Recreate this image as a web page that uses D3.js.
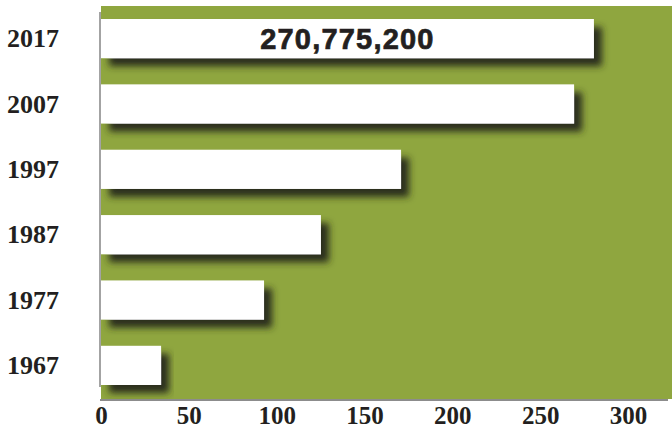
<!DOCTYPE html>
<html>
<head>
<meta charset="utf-8">
<script src="https://cdn.jsdelivr.net/npm/d3@7"></script>
<style>
  body { margin: 0; background: #fff; }
  .yearText { font-family: "Liberation Serif", "Times New Roman", serif; font-weight: bold; font-size: 26px; fill: #231f20; }
  .tickText { font-family: "Liberation Serif", "Times New Roman", serif; font-weight: bold; font-size: 25px; fill: #231f20; }
</style>
</head>
<body>
<div id="chart"></div>
<script>
// Data (millions)
var years = ["2017", "2007", "1997", "1987", "1977", "1967"];
var values = [280.6, 269.3, 170.8, 125.2, 92.8, 34.2];
var xTicks = [0, 50, 100, 150, 200, 250, 300];
var topLabel = "270,775,200";

var svgWidth = 672;
var svgHeight = 430;

var svg = d3.select("#chart")
  .append("svg")
  .attr("width", svgWidth)
  .attr("height", svgHeight);

// drop shadow for the bars
var defs = svg.append("defs");
var shadow = defs.append("filter")
  .attr("id", "barShadow")
  .attr("x", "-10%").attr("y", "-30%")
  .attr("width", "130%").attr("height", "180%");
shadow.append("feDropShadow")
  .attr("dx", 8)
  .attr("dy", 8)
  .attr("stdDeviation", 3.5)
  .attr("flood-color", "#2b2f1c")
  .attr("flood-opacity", 1);

// Scales
var xScale = d3.scaleLinear()
  .domain([0, 300])
  .range([101, 628]);

var yScale = d3.scaleBand()
  .domain(years)
  .range([19, 385])
  .paddingInner(0.4)
  .paddingOuter(0);

// green panel
svg.append("rect")
  .attr("x", 101)
  .attr("y", 6)
  .attr("width", svgWidth - 101)
  .attr("height", 393)
  .attr("fill", "#8fa63f");

// bars
svg.selectAll(".bar")
  .data(values)
  .enter()
  .append("rect")
  .attr("class", "bar")
  .attr("x", xScale(0))
  .attr("y", (d, i) => yScale(years[i]))
  .attr("width", d => xScale(d) - xScale(0))
  .attr("height", yScale.bandwidth())
  .attr("fill", "#ffffff")
  .attr("filter", "url(#barShadow)");

// value label on the top bar
svg.append("text")
  .attr("x", (xScale(0) + xScale(values[0])) / 2)
  .attr("y", yScale(years[0]) + yScale.bandwidth() / 2)
  .attr("dy", "0.36em")
  .attr("text-anchor", "middle")
  .style("font-family", "'Liberation Sans', Arial, sans-serif")
  .style("font-weight", "bold")
  .style("font-size", "29px")
  .style("letter-spacing", "1.2px")
  .attr("fill", "#231f20")
  .attr("stroke", "#231f20")
  .attr("stroke-width", 0.7)
  .text(topLabel);

// left axis (year labels)
var leftAxis = d3.axisLeft(yScale).tickSize(0).tickPadding(41);
var yAxisG = svg.append("g")
  .attr("transform", "translate(100, 0)")
  .call(leftAxis);
yAxisG.select(".domain").remove();
yAxisG.selectAll("text")
  .attr("class", "yearText")
  .attr("font-size", null)
  .attr("font-family", null)
  .attr("dy", "0.33em");

svg.append("line")
  .attr("x1", 100).attr("x2", 100)
  .attr("y1", 12).attr("y2", 387)
  .attr("stroke", "#8c8c8c")
  .attr("stroke-width", 1.6);

// bottom axis
var bottomAxis = d3.axisBottom(xScale).tickValues(xTicks).tickSize(0).tickPadding(6);
var xAxisG = svg.append("g")
  .attr("transform", "translate(0, 400)")
  .call(bottomAxis);
xAxisG.select(".domain").remove();
xAxisG.selectAll("text")
  .attr("class", "tickText")
  .attr("font-size", null)
  .attr("font-family", null);

svg.append("line")
  .attr("x1", 100).attr("x2", 668)
  .attr("y1", 400).attr("y2", 400)
  .attr("stroke", "#8c8c8c")
  .attr("stroke-width", 2);
</script>
</body>
</html>
